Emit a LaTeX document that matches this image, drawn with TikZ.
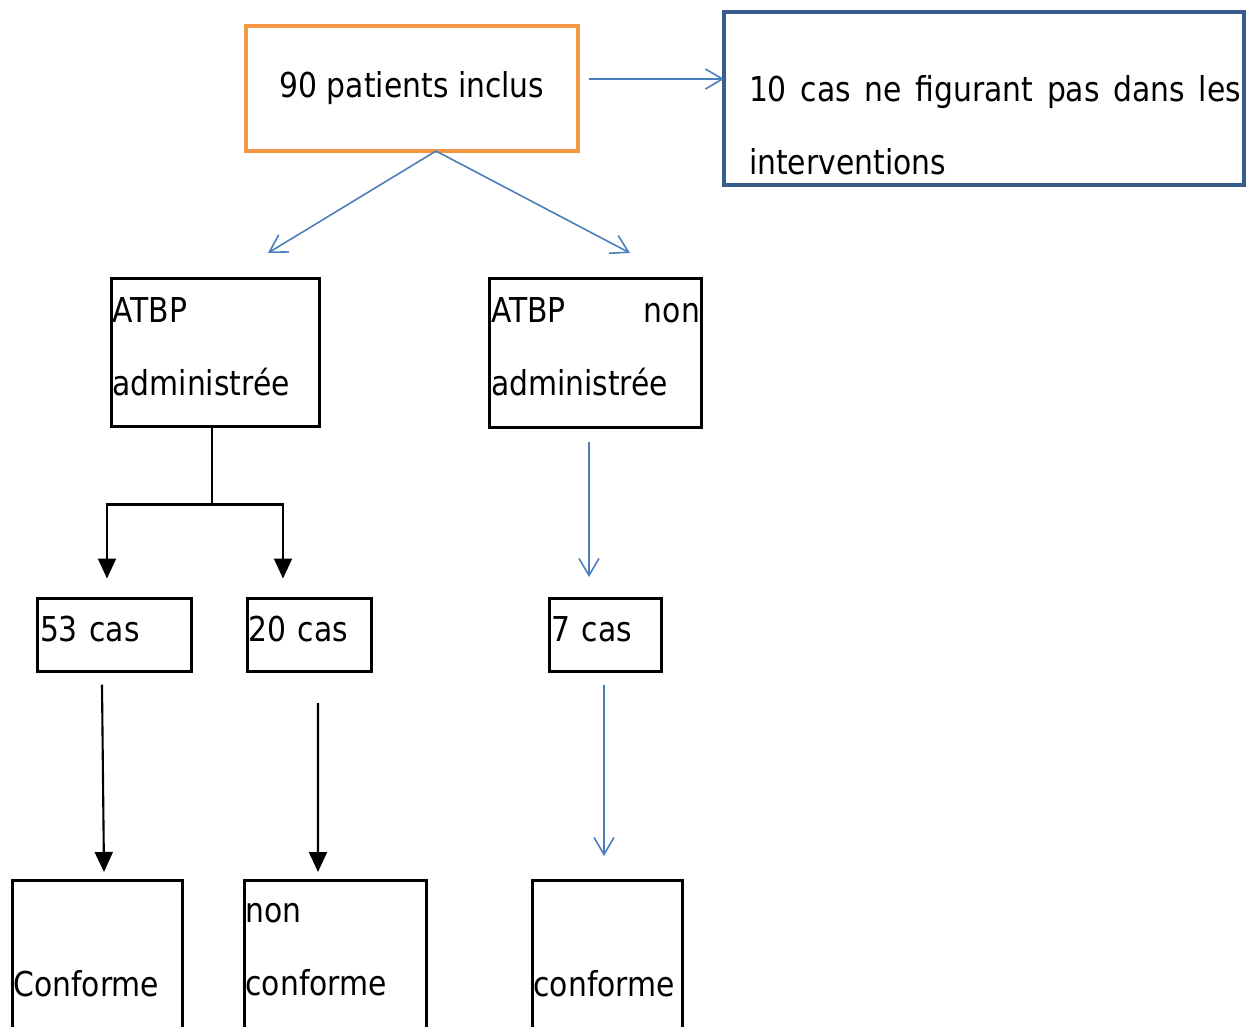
\documentclass[tikz,border=0pt]{standalone}
\usepackage{fontspec}
\setmainfont{DejaVu Sans}[FakeStretch=0.87]
\usepackage{tikz}
\usetikzlibrary{
  arrows.meta,
  calc,
  positioning,
}
\definecolor{cadreorange}{HTML}{F79646}
\definecolor{cadrebleu}{HTML}{385D8A}
\definecolor{flechebleue}{HTML}{4A7EBB}
\tolerance=9999
\hyphenpenalty=10000

\begin{document}
\begin{tikzpicture}[
  every node/.style={font=\fontsize{19.5}{42}\selectfont, outer sep=0pt},
  cadre/.style={draw, line width=1.7pt, anchor=north west, inner xsep=0.02cm, inner ysep=0pt, align=left},
  bleu/.style={draw=flechebleue, line width=0.9pt, -{Straight Barb[length=3.4mm, width=4mm]}},
  noir/.style={draw=black, line width=1.2pt, -{Triangle[length=4mm, width=3.6mm]}},
]
\useasboundingbox (0,0) rectangle (25.2,-20.52);

\node[draw=cadreorange, line width=2.8pt, minimum width=6.64cm, minimum height=2.5cm] (inclus) at (8.24,-1.77) {90 patients inclus};
\node[draw=cadrebleu, line width=2.8pt, anchor=north west, inner xsep=0.06cm, inner ysep=0pt,
  text width=10.28cm, text height=1.78cm, text depth=1.68cm, align=justify,
  execute at begin node={\leftskip=0.44cm}] (exclus) at (14.48,-0.24) {10 cas ne figurant pas dans les interventions};

\node[cadre, text width=4.12cm, text height=0.87cm, text depth=2.09cm] (adm) at (2.23,-5.57) {ATBP administrée};
\node[cadre, line width=2pt, inner xsep=0.03cm, text width=4.18cm, text height=0.87cm, text depth=2.11cm, align=justify] (nonadm) at (9.79,-5.57) {ATBP non administrée};

\node[cadre, inner xsep=0.05cm, text width=2.98cm, text height=0.85cm, text depth=0.61cm] (c53) at (0.75,-11.97) {53 cas};
\node[cadre, text width=2.44cm, text height=0.85cm, text depth=0.61cm] (c20) at (4.95,-11.97) {20 cas};
\node[cadre, inner xsep=0.04cm, text width=2.16cm, text height=0.85cm, text depth=0.61cm] (c7) at (10.99,-11.97) {7 cas};

\node[cadre, text width=3.36cm, text height=2.32cm, text depth=1.08cm] (conf1) at (0.25,-17.6) {Conforme};
\node[cadre, text width=3.60cm, text height=0.84cm, text depth=2.56cm] (nconf) at (4.89,-17.6) {non conforme};
\node[cadre, text width=2.96cm, text height=2.32cm, text depth=1.08cm] (conf2) at (10.65,-17.6) {conforme};

\draw[bleu, shorten <=0.22cm] ([yshift=0.19cm]inclus.east) -- ([yshift=0.19cm]inclus.east -| exclus.west);
\draw[bleu] ([xshift=0.48cm]inclus.south) -- ([xshift=1.05cm, yshift=0.51cm]adm.north);
\draw[bleu] ([xshift=0.48cm]inclus.south) -- ([xshift=0.69cm, yshift=0.51cm]nonadm.north);

\draw[draw=black, line width=1.2pt] ([xshift=-0.07cm]adm.south) -- ++(0,-1.56) coordinate (fourche);
\draw[noir] (fourche) -| ([xshift=-0.15cm, yshift=0.40cm]c53.north);
\draw[noir] (fourche) -| ([xshift=-0.53cm, yshift=0.40cm]c20.north);
\draw[bleu] ([xshift=-0.13cm, yshift=-0.29cm]nonadm.south) -- ([xshift=-0.33cm, yshift=0.43cm]c7.north);

\draw[noir] ([xshift=-0.25cm, yshift=-0.26cm]c53.south) -- ([xshift=0.13cm, yshift=0.16cm]conf1.north);
\draw[noir] ([xshift=0.17cm, yshift=-0.63cm]c20.south) -- ([xshift=-0.35cm, yshift=0.16cm]nconf.north);
\draw[bleu] ([xshift=-0.03cm, yshift=-0.27cm]c7.south) -- ([xshift=-0.07cm, yshift=0.48cm]conf2.north);
\end{tikzpicture}
\end{document}
